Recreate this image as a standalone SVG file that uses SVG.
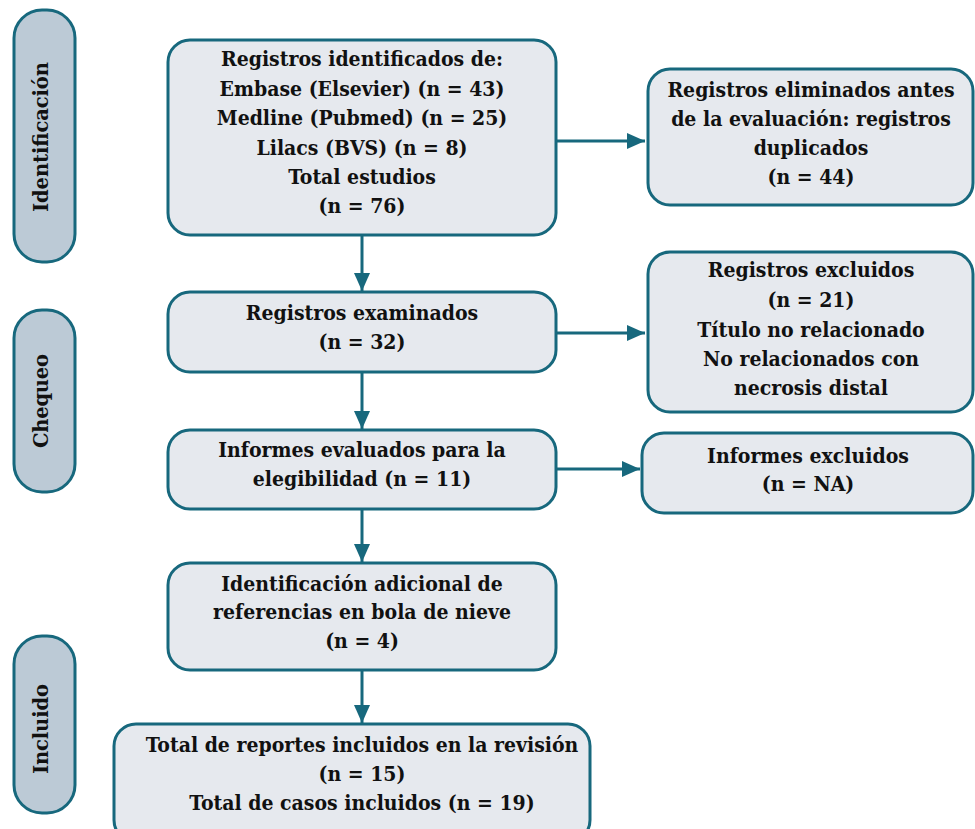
<svg xmlns="http://www.w3.org/2000/svg" width="975" height="829" viewBox="0 0 975 829">
<defs>
<style>
.box{fill:#e6e9ee;stroke:#17687d;stroke-width:3}
.side{fill:#bccad6;stroke:#17687d;stroke-width:3}
.t{font-family:'DejaVu Serif',serif;font-stretch:condensed;font-weight:700;font-size:21px;fill:#111;text-anchor:middle}
.s{font-family:'DejaVu Serif',serif;font-weight:700;font-size:19.5px;fill:#111;text-anchor:middle}
.c{stroke:#17687d;stroke-width:3;fill:none;marker-end:url(#ah)}
</style>
<marker id="ah" markerUnits="userSpaceOnUse" markerWidth="18" markerHeight="16" refX="18" refY="8" orient="auto">
<path d="M0,0 L18,8 L0,16 Z" fill="#17687d"/>
</marker>
</defs>
<rect width="975" height="829" fill="#fff"/>

<g id="side-identificacion">
<rect class="side" x="14" y="10" width="61" height="252" rx="28"/>
<text class="s" transform="translate(48,137) rotate(-90)" textLength="150" lengthAdjust="spacing">Identificación</text>
</g>
<g id="side-chequeo">
<rect class="side" x="14" y="310" width="61" height="182" rx="28"/>
<text class="s" transform="translate(48,401) rotate(-90)" textLength="94" lengthAdjust="spacing">Chequeo</text>
</g>
<g id="side-incluido">
<rect class="side" x="14" y="636" width="61" height="177" rx="28"/>
<text class="s" transform="translate(48,729) rotate(-90)" textLength="90" lengthAdjust="spacing">Incluido</text>
</g>

<g id="connectors">
<line class="c" x1="362" y1="235" x2="362" y2="291"/>
<line class="c" x1="362" y1="372" x2="362" y2="429"/>
<line class="c" x1="362" y1="509" x2="362" y2="562"/>
<line class="c" x1="362" y1="671" x2="362" y2="723"/>
<line class="c" x1="556" y1="141" x2="645" y2="141"/>
<line class="c" x1="556" y1="333" x2="645" y2="333"/>
<line class="c" x1="556" y1="469" x2="640" y2="469"/>
</g>

<g id="n-registros-identificados">
<rect class="box" x="168" y="40" width="388" height="195" rx="22"/>
<text class="t" x="362" y="66">Registros identificados de:</text>
<text class="t" x="362" y="95.5">Embase (Elsevier) (n = 43)</text>
<text class="t" x="362" y="125">Medline (Pubmed) (n = 25)</text>
<text class="t" x="362" y="154.5">Lilacs (BVS) (n = 8)</text>
<text class="t" x="362" y="184">Total estudios</text>
<text class="t" x="362" y="213">(n = 76)</text>
</g>

<g id="n-eliminados">
<rect class="box" x="648" y="69" width="325" height="136" rx="22"/>
<text class="t" x="811" y="97">Registros eliminados antes</text>
<text class="t" x="811" y="126">de la evaluación: registros</text>
<text class="t" x="811" y="155">duplicados</text>
<text class="t" x="811" y="184">(n = 44)</text>
</g>

<g id="n-examinados">
<rect class="box" x="168" y="292" width="388" height="80" rx="22"/>
<text class="t" x="362" y="320">Registros examinados</text>
<text class="t" x="362" y="349">(n = 32)</text>
</g>

<g id="n-registros-excluidos">
<rect class="box" x="648" y="252" width="325" height="160" rx="22"/>
<text class="t" x="811" y="277">Registros excluidos</text>
<text class="t" x="811" y="307">(n = 21)</text>
<text class="t" x="811" y="337">Título no relacionado</text>
<text class="t" x="811" y="366"> No relacionados con</text>
<text class="t" x="811" y="395">necrosis distal</text>
</g>

<g id="n-informes-evaluados">
<rect class="box" x="168" y="430" width="388" height="79" rx="22"/>
<text class="t" x="362" y="457">Informes evaluados para la</text>
<text class="t" x="362" y="486">elegibilidad (n = 11)</text>
</g>

<g id="n-informes-excluidos">
<rect class="box" x="642" y="433" width="331" height="80" rx="22"/>
<text class="t" x="808" y="463">Informes excluidos</text>
<text class="t" x="808" y="491">(n = NA)</text>
</g>

<g id="n-bola-nieve">
<rect class="box" x="168" y="563" width="388" height="107" rx="22"/>
<text class="t" x="362" y="591">Identificación adicional de</text>
<text class="t" x="362" y="619">referencias en bola de nieve</text>
<text class="t" x="362" y="648">(n = 4)</text>
</g>

<g id="n-incluidos">
<rect class="box" x="114" y="724" width="476" height="118" rx="22"/>
<text class="t" x="362" y="752">Total de reportes incluidos en la revisión</text>
<text class="t" x="362" y="781">(n = 15)</text>
<text class="t" x="362" y="810">Total de casos incluidos (n = 19)</text>
</g>
</svg>
